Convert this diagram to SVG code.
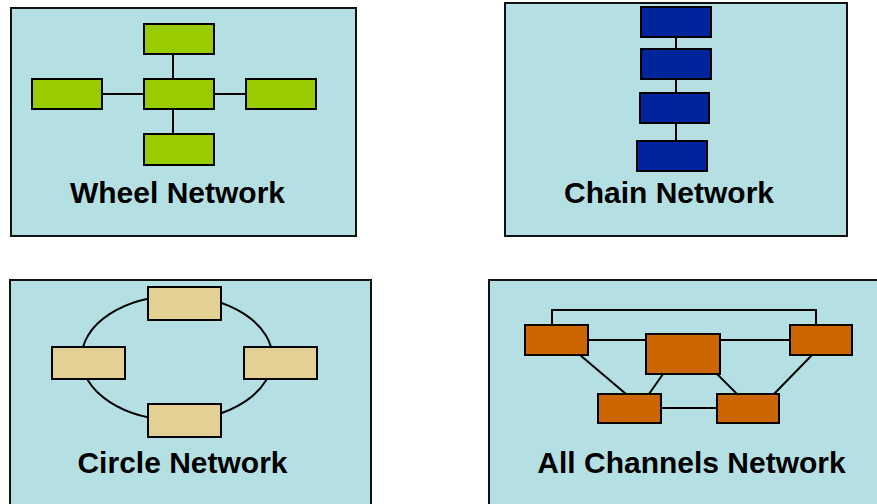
<svg xmlns="http://www.w3.org/2000/svg" width="877" height="504" viewBox="0 0 877 504">
<style>
.panel{fill:#B4E0E4;stroke:#111;stroke-width:2}
.node{stroke:#000;stroke-width:2}
.g{fill:#99CC00}
.b{fill:#00249C}
.t{fill:#E3D095}
.o{fill:#CC6600}
.ln{stroke:#000;stroke-width:2;fill:none}
.lbl{font-family:"Liberation Sans",Arial,sans-serif;font-weight:bold;font-size:30px;fill:#000;text-anchor:middle}
</style>
<rect x="0" y="0" width="877" height="504" fill="#fff"/>
<g id="panel-wheel">
<rect class="panel" x="11" y="8" width="345" height="228"/>
<text class="lbl" x="177.5" y="203">Wheel Network</text>
</g>
<g id="panel-chain">
<rect class="panel" x="505" y="3" width="342" height="233"/>
<text class="lbl" x="669" y="203">Chain Network</text>
</g>
<g id="panel-circle">
<rect class="panel" x="10" y="280" width="361" height="240"/>
<text class="lbl" x="182.5" y="473">Circle Network</text>
</g>
<g id="panel-all">
<rect class="panel" x="489" y="280" width="400" height="240"/>
<text class="lbl" x="691.5" y="473">All Channels Network</text>
</g>
<g id="connectors">
<line class="ln" x1="173" y1="54" x2="173" y2="134"/>
<line class="ln" x1="102" y1="94" x2="246" y2="94"/>
<line class="ln" x1="676" y1="37" x2="676" y2="172"/>
<ellipse class="ln" cx="177" cy="358" rx="95.5" ry="62"/>
<polyline class="ln" points="552,325 552,310 816,310 816,325"/>
<line class="ln" x1="588" y1="340" x2="646" y2="340"/>
<line class="ln" x1="720" y1="340" x2="790" y2="340"/>
<line class="ln" x1="580" y1="355" x2="626" y2="394"/>
<line class="ln" x1="663" y1="374" x2="649" y2="394"/>
<line class="ln" x1="717" y1="374" x2="737" y2="394"/>
<line class="ln" x1="812" y1="355" x2="774" y2="394"/>
<line class="ln" x1="661" y1="408" x2="717" y2="408"/>
</g>
<g id="w-top"><rect class="node g" x="144" y="24" width="70" height="30"/></g>
<g id="w-center"><rect class="node g" x="144" y="79" width="70" height="30"/></g>
<g id="w-left"><rect class="node g" x="32" y="79" width="70" height="30"/></g>
<g id="w-right"><rect class="node g" x="246" y="79" width="70" height="30"/></g>
<g id="w-bottom"><rect class="node g" x="144" y="134" width="70" height="31"/></g>
<g id="c-1"><rect class="node b" x="641" y="7" width="70" height="30"/></g>
<g id="c-2"><rect class="node b" x="641" y="49" width="70" height="30"/></g>
<g id="c-3"><rect class="node b" x="640" y="93" width="69" height="30"/></g>
<g id="c-4"><rect class="node b" x="637" y="141" width="70" height="30"/></g>
<g id="r-top"><rect class="node t" x="148" y="287" width="73" height="33"/></g>
<g id="r-left"><rect class="node t" x="52" y="347" width="73" height="32"/></g>
<g id="r-right"><rect class="node t" x="244" y="347" width="73" height="32"/></g>
<g id="r-bottom"><rect class="node t" x="148" y="404" width="73" height="33"/></g>
<g id="a-tl"><rect class="node o" x="525" y="325" width="63" height="30"/></g>
<g id="a-center"><rect class="node o" x="646" y="334" width="74" height="40"/></g>
<g id="a-tr"><rect class="node o" x="790" y="325" width="62" height="30"/></g>
<g id="a-bl"><rect class="node o" x="598" y="394" width="63" height="29"/></g>
<g id="a-br"><rect class="node o" x="717" y="394" width="62" height="29"/></g>
</svg>
